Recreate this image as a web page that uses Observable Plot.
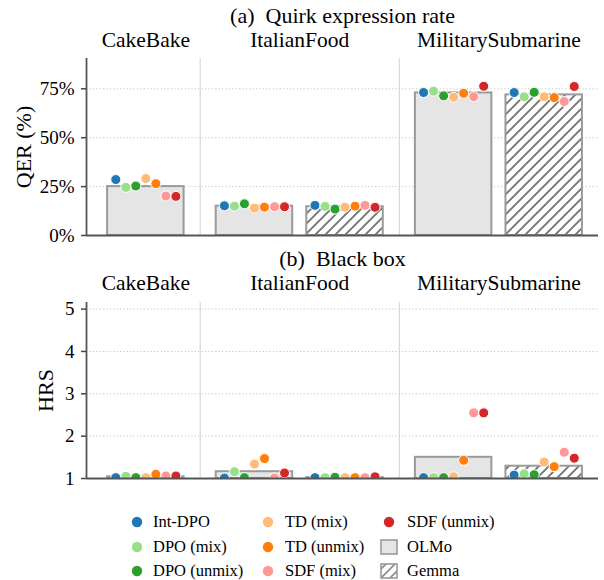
<!DOCTYPE html>
<html>
<head>
<meta charset="utf-8">
<script src="https://cdn.jsdelivr.net/npm/d3@7"></script>
<script src="https://cdn.jsdelivr.net/npm/@observablehq/plot@0.6"></script>
<style>
  body { margin: 0; background: #fff; font-family: "Liberation Serif", "Times New Roman", serif; }
  #chart { position: relative; width: 604px; height: 580px; }
  #chart svg { display: block; }
  .legend { position: absolute; left: 0; top: 490px; width: 604px; height: 90px; }
  .item { position: absolute; height: 20px; display: flex; align-items: center; font-size: 16.5px; color: #000; white-space: nowrap; }
</style>
</head>
<body>
<div id="chart"></div>
<script>
// Tasks (facet groups), models and fine-tuning methods
const groups = ["CakeBake", "ItalianFood", "MilitarySubmarine"];
const models = ["OLMo", "Gemma"];
const methods = ["Int-DPO", "DPO (mix)", "DPO (unmix)", "TD (mix)", "TD (unmix)", "SDF (mix)", "SDF (unmix)"];
const methodColors = ["#1f77b4", "#98df8a", "#2ca02c", "#ffbb78", "#ff7f0e", "#ff9896", "#d62728"];

// Bars that exist, in drawing order (CakeBake has OLMo only)
const barGroups = ["CakeBake", "ItalianFood", "ItalianFood", "MilitarySubmarine", "MilitarySubmarine"];
const barModels = ["OLMo", "OLMo", "Gemma", "OLMo", "Gemma"];

// (a) Quirk expression rate, %: bar averages and one value per method
const qerBars = [25.0, 15.0, 14.7, 72.9, 71.9];
const qerCakeOLMo     = [28.6, 24.6, 25.3, 29.1, 26.5, 20.2, 20.0];
const qerItalianOLMo  = [15.2, 15.0, 16.2, 14.0, 14.5, 14.7, 14.7];
const qerItalianGemma = [15.4, 14.9, 13.5, 14.5, 15.0, 15.4, 14.4];
const qerMilOLMo      = [73.1, 73.8, 71.4, 70.7, 72.7, 71.0, 76.3];
const qerMilGemma     = [73.1, 70.9, 73.2, 70.9, 70.5, 68.5, 76.2];
const qerTicks = [0, 25, 50, 75];

// (b) Black box, HRS: bar averages and one value per method
const hrsBars = [1.04, 1.16, 1.02, 1.50, 1.29];
const hrsCakeOLMo     = [1.02, 1.05, 1.02, 1.02, 1.10, 1.06, 1.06];
const hrsItalianOLMo  = [1.01, 1.16, 1.02, 1.34, 1.47, 1.01, 1.13];
const hrsItalianGemma = [1.02, 1.02, 1.03, 1.02, 1.02, 1.02, 1.04];
const hrsMilOLMo      = [1.02, 1.02, 1.02, 1.04, 1.43, 2.55, 2.55];
const hrsMilGemma     = [1.08, 1.11, 1.09, 1.39, 1.28, 1.62, 1.48];
const hrsTicks = [1, 2, 3, 4, 5];

// Horizontal layout in bar-width units: bars sit side by side inside a task,
// with a wider gap (and a divider) between tasks.
const LEAD = 0.276, INNER = 0.184, OUTER = 0.42, TRAIL = 0.21, DOT_STEP = 0.131;
const layout = (() => {
  const bars = [], separators = [], centers = [];
  let pos = LEAD;
  groups.forEach((g, gi) => {
    if (gi > 0) { separators.push(pos + OUTER / 2); pos += OUTER; }
    const start = pos;
    barGroups.forEach((bg, i) => {
      if (bg !== g) return;
      if (pos > start) pos += INNER;
      bars[i] = {x1: pos, x2: pos + 1, cx: pos + 0.5};
      pos += 1;
    });
    centers.push((start + pos) / 2);
  });
  return {bars, separators, centers, end: pos + TRAIL};
})();

const FONT = '"Liberation Serif", "Times New Roman", serif';
const ns = "http://www.w3.org/2000/svg";

// SVG <pattern> with "/" diagonal strokes over a white ground
function hatchPattern(id, size, color, width) {
  const p = document.createElementNS(ns, "pattern");
  p.setAttribute("id", id);
  p.setAttribute("patternUnits", "userSpaceOnUse");
  p.setAttribute("width", size);
  p.setAttribute("height", size);
  const bg = document.createElementNS(ns, "rect");
  bg.setAttribute("width", size);
  bg.setAttribute("height", size);
  bg.setAttribute("fill", "white");
  p.appendChild(bg);
  const path = document.createElementNS(ns, "path");
  path.setAttribute("d", `M-1,1 l2,-2 M0,${size} l${size},-${size} M${size - 1},${size + 1} l2,-2`);
  path.setAttribute("stroke", color);
  path.setAttribute("stroke-width", width);
  path.setAttribute("fill", "none");
  p.appendChild(path);
  return p;
}

function panel({id, title, titleY, label, labelOffset, bars, dots, base, top, ticks, fmt, marginTop, marginBottom, facetY}) {
  const barData = bars.map((v, i) => ({group: barGroups[i], model: barModels[i], ...layout.bars[i], value: v}));
  const dotData = dots.flatMap((vals, i) => vals.map((v, k) => ({
    method: methods[k], x: layout.bars[i].cx + (k - 3) * DOT_STEP, value: v
  })));
  const svg = Plot.plot({
    width: 604, height: 245,
    marginLeft: 86, marginRight: 6, marginTop, marginBottom,
    style: {fontFamily: FONT, fontSize: "19px", background: "white", color: "black"},
    x: {type: "linear", domain: [0, layout.end], axis: null},
    y: {domain: [base, top], axis: null},
    color: {domain: methods, range: methodColors},
    marks: [
      Plot.ruleY(ticks.filter(t => t !== base), {y: d => d, stroke: "#c4c4c4", strokeWidth: 1, strokeDasharray: "1.2,2.2"}),
      Plot.ruleX(layout.separators, {x: d => d, stroke: "#d2d2d2", strokeWidth: 1}),
      Plot.rect(barData.filter(d => d.model === "OLMo"), {
        x1: "x1", x2: "x2", y1: () => base, y2: "value",
        fill: "#e5e5e5", stroke: "#9a9a9a", strokeWidth: 2
      }),
      Plot.rect(barData.filter(d => d.model === "Gemma"), {
        x1: "x1", x2: "x2", y1: () => base, y2: "value",
        fill: `url(#${id})`, stroke: "#9a9a9a", strokeWidth: 2
      }),
      Plot.dot(dotData, {x: "x", y: "value", fill: "method", stroke: "white", strokeWidth: 1, r: 5, clip: true}),
      Plot.axisY(ticks, {
        tickFormat: fmt, tickSize: 5, tickPadding: 7, label: null,
        stroke: "#444", strokeWidth: 1.5, fontSize: 19, fill: "black"
      }),
      Plot.ruleX([0], {x: d => d, stroke: "#555", strokeWidth: 1.8}),
      Plot.ruleY([base], {y: d => d, stroke: "#555", strokeWidth: 1.8}),
      Plot.text([title], {text: d => d, frameAnchor: "top", lineAnchor: "middle", dy: titleY - marginTop, fontSize: 22, fill: "black"}),
      Plot.text(groups, {x: (d, i) => layout.centers[i], text: d => d, frameAnchor: "top", lineAnchor: "middle", dy: facetY - marginTop, fontSize: 21.5, fill: "black"}),
      Plot.text([label], {text: d => d, frameAnchor: "left", textAnchor: "middle", lineAnchor: "middle", dx: -labelOffset, rotate: -90, fontSize: 22, fill: "black"})
    ]
  });

  const defs = document.createElementNS(ns, "defs");
  defs.appendChild(hatchPattern(id, 10, "#737373", 1.9));
  svg.insertBefore(defs, svg.firstChild);
  return svg;
}

const chart = document.getElementById("chart");

chart.appendChild(panel({
  id: "hatch-a",
  title: "(a)\u00a0 Quirk expression rate", titleY: 15, facetY: 40,
  label: "QER (%)", labelOffset: 63,
  bars: qerBars,
  dots: [qerCakeOLMo, qerItalianOLMo, qerItalianGemma, qerMilOLMo, qerMilGemma],
  base: 0, top: 90.5, ticks: qerTicks, fmt: d => d + "%",
  marginTop: 58, marginBottom: 10
}));

chart.appendChild(panel({
  id: "hatch-b",
  title: "(b)\u00a0 Black box", titleY: 13, facetY: 38,
  label: "HRS", labelOffset: 41,
  bars: hrsBars,
  dots: [hrsCakeOLMo, hrsItalianOLMo, hrsItalianGemma, hrsMilOLMo, hrsMilGemma],
  base: 1, top: 5.156, ticks: hrsTicks, fmt: d => String(d),
  marginTop: 57, marginBottom: 12
}));

// Legend: methods (dots) then models (boxes), filled column by column
const legend = document.createElement("div");
legend.className = "legend";
const colSymbolX = [137, 268, 389];
const colTextX = [153, 285, 407];
const rowY = [31.7, 56.7, 81];
const entries = [
  ...methods.map((m, i) => ({label: m, kind: "dot", color: methodColors[i]})),
  ...models.map(m => ({label: m, kind: m}))
];
entries.forEach((e, i) => {
  const col = Math.floor(i / 3), row = i % 3;
  const sym = document.createElement("div");
  sym.className = "item";
  sym.style.left = (colSymbolX[col] - 9) + "px";
  sym.style.top = (rowY[row] - 10) + "px";
  const s = document.createElementNS(ns, "svg");
  s.setAttribute("width", 18);
  s.setAttribute("height", 20);
  if (e.kind === "dot") {
    const c = document.createElementNS(ns, "circle");
    c.setAttribute("cx", 9); c.setAttribute("cy", 10); c.setAttribute("r", 5.2);
    c.setAttribute("fill", e.color);
    s.appendChild(c);
  } else {
    if (e.kind === "Gemma") {
      const d = document.createElementNS(ns, "defs");
      d.appendChild(hatchPattern("hatch-legend", 9, "#8a8a8a", 1.6));
      s.appendChild(d);
    }
    const r = document.createElementNS(ns, "rect");
    r.setAttribute("x", 1); r.setAttribute("y", 3);
    r.setAttribute("width", 16); r.setAttribute("height", 14);
    r.setAttribute("fill", e.kind === "OLMo" ? "#e5e5e5" : "url(#hatch-legend)");
    r.setAttribute("stroke", "#9a9a9a");
    r.setAttribute("stroke-width", 1.6);
    s.appendChild(r);
  }
  sym.appendChild(s);
  legend.appendChild(sym);
  const txt = document.createElement("div");
  txt.className = "item";
  txt.style.left = colTextX[col] + "px";
  txt.style.top = (rowY[row] - 10) + "px";
  txt.textContent = e.label;
  legend.appendChild(txt);
});
chart.appendChild(legend);
</script>
</body>
</html>
